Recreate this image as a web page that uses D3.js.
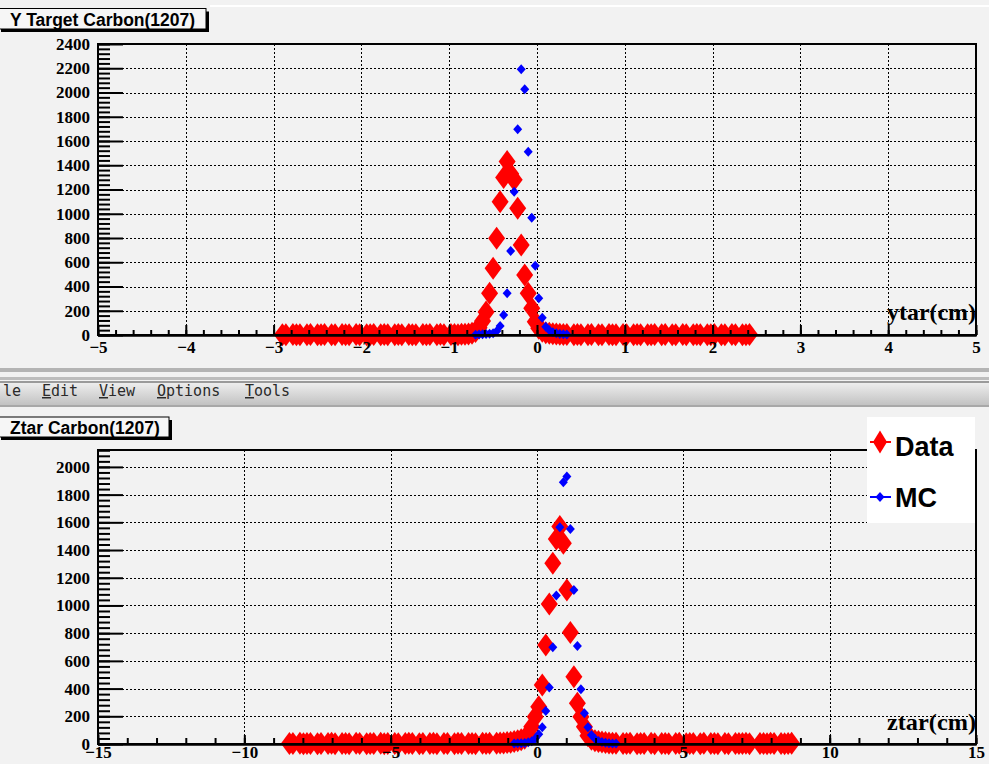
<!DOCTYPE html>
<html lang="en">
  <head>
    <meta charset="utf-8">
    <title>ytar / ztar Carbon(1207)</title>
    <script src="https://d3js.org/d3.v7.js"></script>
    <style>
      body { margin: 0; background: #f2f2f2; }
      svg { display: block; }
    </style>
  </head>

  <body>
  <script>

    // ---- data ----
    // histogram binning: [low edge, high edge, number of bins]
    const ytarBinning = [-5, 5, 250];
    const ztarBinning = [-15, 15, 250];

    // Y target, data (red) and MC (blue); counts start at the given bin
    const ytarDataFirstBin = 52;
    const ytarDataCounts = [
      3, 2, 0, 4, 2, 3, 0, 2, 5, 0,
      3, 2, 4, 0, 3, 2, 0, 5, 3, 2,
      0, 4, 3, 0, 2, 3, 5, 0, 2, 4,
      3, 0, 3, 5, 2, 0, 4, 2, 3, 0,
      5, 3, 4, 0, 2, 6, 3, 0, 4, 5,
      3, 7, 6, 9,
      14, 28, 60, 115, 190, 344, 550, 797, 1099, 1300, 1430, 1330,
      1280, 1045, 742, 495, 344, 220, 110, 55, 30, 18, 14,
      10, 8, 6, 5, 4, 0, 3, 5, 2, 0,
      3, 4, 0, 2, 3, 0, 4, 2, 3, 0,
      5, 2, 0, 3, 4, 2, 0, 3, 2, 4,
      0, 3, 5, 0, 2, 3, 0, 4, 2, 0,
      3, 5, 2, 0, 3, 2, 4, 0, 3, 2,
      0, 4, 3, 0, 2, 3, 4
    ];
    const ytarMCFirstBin = 107;
    const ytarMCCounts = [3, 5, 6, 8, 10, 14, 30, 74, 165, 344, 693, 1182, 1696, 2191,
                          2026, 1512, 967, 572, 303, 143, 69, 40, 22, 14, 9, 6, 4];

    // Ztar
    const ztarDataFirstBin = 54;
    const ztarDataCounts = [
      4, 3, 0, 5, 2, 4, 3, 0, 2, 4,
      0, 3, 5, 2, 0, 4, 3, 2, 0, 5,
      3, 0, 2, 4, 3, 0, 5, 2, 3, 0,
      4, 2, 0, 3, 5, 4, 0, 2, 3, 0,
      4, 5, 2, 0, 3, 4, 0, 2, 5, 3,
      0, 4, 3, 2, 0, 5, 4, 6, 0, 5,
      7, 8, 10, 12,
      18, 24, 30, 42, 65, 125, 197, 269, 426, 715, 1011, 1305, 1480,
      1569, 1449, 1112, 804, 486, 294, 197, 125, 60, 35, 24, 18,
      14, 10, 8, 6, 5, 0, 4, 3, 5, 0,
      2, 4, 3, 0, 5, 2, 0, 3, 4, 2,
      0, 3, 5, 0, 2, 4, 3, 0, 2, 5,
      0, 3, 4, 2, 0, 3, 2, 0, 3, 4,
      3, 5, 2, 0, 0, 3, 4, 2, 5, 3,
      0, 4, 2, 3, 5
    ];
    const ztarMCFirstBin = 118;
    const ztarMCCounts = [3, 5, 6, 8, 12, 20, 40, 70, 121, 238, 407, 698, 1071, 1565, 1890,
                          1930, 1552, 1112, 708, 395, 222, 121, 65, 38, 22, 14, 9, 6, 4, 3];

    // axis ranges and tick labels
    const ytarXTicks = [-5, -4, -3, -2, -1, 0, 1, 2, 3, 4, 5];
    const ytarYTicks = [0, 200, 400, 600, 800, 1000, 1200, 1400, 1600, 1800, 2000, 2200, 2400];
    const ytarYMax = 2400;
    const ztarXTicks = [-15, -10, -5, 0, 5, 10, 15];
    const ztarYTicks = [0, 200, 400, 600, 800, 1000, 1200, 1400, 1600, 1800, 2000];
    const ztarYMax = 2122;

    const titles = ["Y Target Carbon(1207)", "Ztar Carbon(1207)"];
    const axisTitles = ["ytar(cm)", "ztar(cm)"];
    const legendLabels = ["Data", "MC"];
    // the menu bar is cut at the left edge, so only "le" of "File" shows
    const menuItems = ["le", "Edit", "View", "Options", "Tools"];

    // ---- page ----
    const w = 989;
    const h = 764;
    const serif = "'Liberation Serif', 'Times New Roman', serif";
    const sans = "'Liberation Sans', Arial, sans-serif";
    const fmt = d => d < 0 ? "\u2212" + Math.abs(d) : String(d);

    const svg = d3.select("body")
                  .append("svg")
                  .attr("width", w)
                  .attr("height", h);

    svg.append("rect")
       .attr("width", w)
       .attr("height", h)
       .attr("fill", "#f2f2f2");

    svg.append("rect")
       .attr("x", 210).attr("y", 5)
       .attr("width", w - 210).attr("height", 2)
       .attr("fill", "#ffffff");

    // turn histogram counts into points (empty bins are not drawn)
    function toPoints(binning, firstBin, counts) {
      const width = (binning[1] - binning[0]) / binning[2];
      return counts.map((c, i) => ({x: binning[0] + (firstBin + i + 0.5) * width, v: c}))
                   .filter(d => d.v > 0);
    }

    function diamond(hw, hh) {
      const p = d3.path();
      p.moveTo(0, -hh);
      p.lineTo(hw, 0);
      p.lineTo(0, hh);
      p.lineTo(-hw, 0);
      p.closePath();
      return p.toString();
    }

    const redMarker = diamond(8.5, 11.5);
    const blueMarker = diamond(4.5, 5);

    function drawPanel(p) {
      const x = d3.scaleLinear().domain(p.xDomain).range([p.left, p.right]);
      const y = d3.scaleLinear().domain(p.yDomain).range([p.bottom, p.top]);
      const g = svg.append("g");

      // grid
      g.append("g").selectAll("line")
       .data(p.xTicks)
       .join("line")
       .attr("x1", d => Math.round(x(d)) + 0.5)
       .attr("x2", d => Math.round(x(d)) + 0.5)
       .attr("y1", p.top)
       .attr("y2", p.bottom)
       .attr("stroke", "#000")
       .attr("stroke-width", 1.5)
       .attr("stroke-dasharray", "2,2")
       .attr("shape-rendering", "crispEdges");

      g.append("g").selectAll("line")
       .data(p.yTicks)
       .join("line")
       .attr("x1", p.left)
       .attr("x2", p.right)
       .attr("y1", d => Math.round(y(d)) + 0.5)
       .attr("y2", d => Math.round(y(d)) + 0.5)
       .attr("stroke", "#000")
       .attr("stroke-width", 1.5)
       .attr("stroke-dasharray", "1.5,2.5")
       .attr("shape-rendering", "crispEdges");

      // markers: data first, MC on top
      g.append("g").selectAll("path")
       .data(p.data)
       .join("path")
       .attr("d", redMarker)
       .attr("transform", d => `translate(${x(d.x)},${y(d.v)})`)
       .attr("fill", "#ff0000");

      g.append("g").selectAll("path")
       .data(p.mc)
       .join("path")
       .attr("d", blueMarker)
       .attr("transform", d => `translate(${x(d.x)},${y(d.v)})`)
       .attr("fill", "#0000ff");

      // frame
      g.append("rect")
       .attr("x", p.left).attr("y", p.top)
       .attr("width", p.right - p.left)
       .attr("height", p.bottom - p.top)
       .attr("fill", "none")
       .attr("stroke", "#000")
       .attr("stroke-width", 2);

      // axes: minor ticks, then major ticks with labels
      const xMinor = g.append("g")
         .attr("transform", `translate(0,${p.bottom})`)
         .call(d3.axisBottom(x).tickValues(p.xMinor).tickSizeInner(-p.xMinorLen).tickSizeOuter(0).tickFormat(""));
      const xMajor = g.append("g")
         .attr("transform", `translate(0,${p.bottom})`)
         .call(d3.axisBottom(x).tickValues(p.xTicks).tickSizeInner(-p.xMajorLen).tickSizeOuter(0)
                 .tickPadding(p.xPad).tickFormat(fmt));
      const yMinor = g.append("g")
         .attr("transform", `translate(${p.left},0)`)
         .call(d3.axisLeft(y).tickValues(p.yMinor).tickSizeInner(-12).tickSizeOuter(0).tickFormat(""));
      const yMajor = g.append("g")
         .attr("transform", `translate(${p.left},0)`)
         .call(d3.axisLeft(y).tickValues(p.yTicks).tickSizeInner(-25).tickSizeOuter(0)
                 .tickPadding(8).tickFormat(fmt));

      [xMinor, xMajor, yMinor, yMajor].forEach(a => {
        a.selectAll("line").attr("stroke-width", 2);
        a.select(".domain").attr("stroke-width", 2);
        a.attr("font-family", serif).attr("font-size", 17).attr("font-weight", "bold");
      });
      yMajor.select(".domain").remove();
      yMinor.select(".domain").remove();

      // axis title
      g.append("text")
       .attr("x", p.right)
       .attr("y", p.titleY)
       .attr("text-anchor", "end")
       .attr("font-family", serif)
       .attr("font-weight", "bold")
       .attr("font-size", 23)
       .attr("textLength", 89)
       .attr("lengthAdjust", "spacingAndGlyphs")
       .text(p.axisTitle);
    }

    function titleBox(x0, y0, bw, bh, label, baseline) {
      svg.append("rect")
         .attr("x", x0 + 3).attr("y", y0 + 3)
         .attr("width", bw).attr("height", bh)
         .attr("fill", "#000");
      svg.append("rect")
         .attr("x", x0).attr("y", y0)
         .attr("width", bw).attr("height", bh)
         .attr("fill", "#f6f6f6")
         .attr("stroke", "#000")
         .attr("stroke-width", 1);
      svg.append("text")
         .attr("x", 10)
         .attr("y", baseline)
         .attr("font-family", sans)
         .attr("font-weight", "bold")
         .attr("font-size", 17.5)
         .text(label);
    }

    // top panel
    drawPanel({
      left: 98, right: 976, top: 44, bottom: 335,
      xDomain: [ytarBinning[0], ytarBinning[1]],
      yDomain: [0, ytarYMax],
      xTicks: ytarXTicks,
      xMinor: d3.range(-5, 5.001, 0.2),
      yTicks: ytarYTicks,
      yMinor: d3.range(0, ytarYMax + 1, 40),
      xMajorLen: 10, xMinorLen: 5, xPad: 6,
      data: toPoints(ytarBinning, ytarDataFirstBin, ytarDataCounts),
      mc: toPoints(ytarBinning, ytarMCFirstBin, ytarMCCounts),
      axisTitle: axisTitles[0], titleY: 320
    });
    titleBox(-2, 8.5, 208, 20.5, titles[0], 26);

    // separator and menu bar
    svg.append("rect").attr("x", 0).attr("y", 368).attr("width", w).attr("height", 4).attr("fill", "#b4b4b4");
    svg.append("rect").attr("x", 0).attr("y", 377).attr("width", w).attr("height", 3).attr("fill", "#bdbdbd");

    const grad = svg.append("defs").append("linearGradient")
                    .attr("id", "menu").attr("x1", 0).attr("x2", 0).attr("y1", 0).attr("y2", 1);
    grad.append("stop").attr("offset", 0).attr("stop-color", "#ededed");
    grad.append("stop").attr("offset", 1).attr("stop-color", "#c2c2c2");

    svg.append("rect").attr("x", 0).attr("y", 381).attr("width", w).attr("height", 2).attr("fill", "#9a9a9a");
    svg.append("rect").attr("x", 0).attr("y", 383).attr("width", w).attr("height", 22).attr("fill", "url(#menu)");
    svg.append("rect").attr("x", 0).attr("y", 405).attr("width", w).attr("height", 2).attr("fill", "#a8a8a8");

    const menuX = [3, 42, 99, 157, 245];
    menuItems.forEach((m, i) => {
      const t = svg.append("text")
                   .attr("x", menuX[i])
                   .attr("y", 396)
                   .attr("font-family", "'DejaVu Sans Mono', 'Liberation Mono', monospace")
                   .attr("font-size", 15)
                   .attr("fill", "#2a2a2a");
      if (i === 0) {
        t.text(m);
      } else {
        t.append("tspan").attr("text-decoration", "underline").text(m[0]);
        t.append("tspan").text(m.slice(1));
      }
    });

    // bottom panel
    drawPanel({
      left: 98, right: 976, top: 450, bottom: 744,
      xDomain: [ztarBinning[0], ztarBinning[1]],
      yDomain: [0, ztarYMax],
      xTicks: ztarXTicks,
      xMinor: d3.range(-15, 15.001, 1),
      yTicks: ztarYTicks,
      yMinor: d3.range(0, ztarYMax, 40),
      xMajorLen: 9, xMinorLen: 6, xPad: 2,
      data: toPoints(ztarBinning, ztarDataFirstBin, ztarDataCounts),
      mc: toPoints(ztarBinning, ztarMCFirstBin, ztarMCCounts),
      axisTitle: axisTitles[1], titleY: 730
    });
    titleBox(-2, 417, 171, 20, titles[1], 434);

    // legend
    const legend = svg.append("g");
    legend.append("rect")
          .attr("x", 867).attr("y", 417)
          .attr("width", 108).attr("height", 106)
          .attr("fill", "#ffffff");

    const legendRows = [
      {label: legendLabels[0], color: "#ff0000", marker: diamond(7, 11.5), y: 442, base: 456},
      {label: legendLabels[1], color: "#0000ff", marker: blueMarker, y: 497, base: 507}
    ];
    legendRows.forEach(r => {
      legend.append("line")
            .attr("x1", 870).attr("x2", 891)
            .attr("y1", r.y).attr("y2", r.y)
            .attr("stroke", r.color)
            .attr("stroke-width", 2);
      legend.append("path")
            .attr("d", r.marker)
            .attr("transform", `translate(880,${r.y})`)
            .attr("fill", r.color);
      legend.append("text")
            .attr("x", 895)
            .attr("y", r.base)
            .attr("font-family", sans)
            .attr("font-weight", "bold")
            .attr("font-size", 27)
            .text(r.label);
    });

  </script>
  </body>
</html>
